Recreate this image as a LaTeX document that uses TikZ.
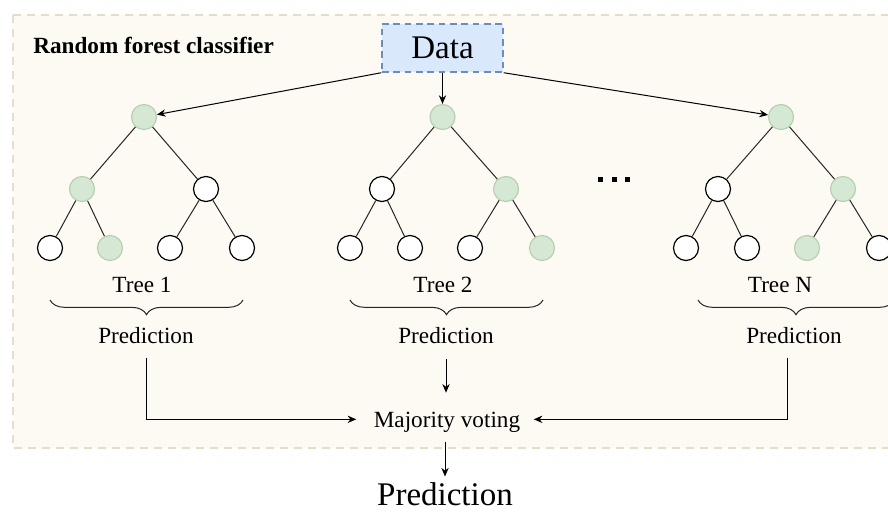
\documentclass[tikz,border=0pt]{standalone}
\usepackage{fontspec}
\setmainfont{Liberation Serif}
\usetikzlibrary{arrows.meta,decorations.pathreplacing}
\definecolor{framefill}{HTML}{FDFAF4}
\definecolor{framedraw}{HTML}{E6DCC8}
\definecolor{datafill}{HTML}{DAE8FC}
\definecolor{datadraw}{HTML}{6C8EBF}
\definecolor{gfill}{HTML}{D5E8D4}
\definecolor{gdraw}{HTML}{B8D0B2}
\begin{document}
\begin{tikzpicture}[x=0.75pt,y=-0.75pt,
 wn/.style={circle,draw=black,line width=0.9pt,fill=white,minimum size=18.75pt,inner sep=0pt},
 gn/.style={circle,draw=gdraw,line width=0.9pt,fill=gfill,minimum size=18.75pt,inner sep=0pt},
 edge/.style={draw=black!85,line width=0.75pt},
 arr/.style={draw=black,line width=0.75pt,-{Stealth[length=6.5pt,width=5.5pt]}},
 txt/.style={font=\fontsize{17.4}{20}\selectfont,inner sep=0pt},
 big/.style={font=\fontsize{24.75}{28}\selectfont,inner sep=0pt},
 brc/.style={decorate,decoration={brace,mirror,amplitude=11pt},line width=0.75pt,draw=black!85}]
\useasboundingbox (0,0) rectangle (888,515);
\fill[white] (0,0) rectangle (888,515);
% frame
\draw[framedraw,fill=framefill,line width=0.9pt,dash pattern=on 6pt off 4.5pt] (13,15) rectangle (900,448);
\node[font={\fontsize{17.4}{20}\selectfont\bfseries},inner sep=0pt,anchor=base west] (title) at (33,53) {Random forest classifier};
% data
\node[draw=datadraw,fill=datafill,line width=1.1pt,dash pattern=on 5pt off 3.5pt,minimum width=90.75pt,minimum height=36pt,big] (data) at (442.5,48) {Data};
% tree 1
\node[gn] (t1r) at (144,117) {};
\node[gn] (t1a) at (82,189) {};
\node[wn] (t1b) at (206,189) {};
\node[wn] (t1aa) at (50,248) {};
\node[gn] (t1ab) at (110,248) {};
\node[wn] (t1ba) at (170,248) {};
\node[wn] (t1bb) at (242,248) {};
% tree 2
\node[gn] (t2r) at (442.5,117) {};
\node[wn] (t2a) at (382,189) {};
\node[gn] (t2b) at (506,189) {};
\node[wn] (t2aa) at (350,248) {};
\node[wn] (t2ab) at (410,248) {};
\node[wn] (t2ba) at (470,248) {};
\node[gn] (t2bb) at (542,248) {};
% tree N
\node[gn] (tnr) at (781,117) {};
\node[wn] (tna) at (718,189) {};
\node[gn] (tnb) at (843,189) {};
\node[wn] (tnaa) at (686,248) {};
\node[wn] (tnab) at (747,248) {};
\node[gn] (tnba) at (807,248) {};
\node[wn] (tnbb) at (879,248) {};
% tree edges
\foreach \t in {t1,t2,tn}{
  \draw[edge] (\t r) -- (\t a);
  \draw[edge] (\t r) -- (\t b);
  \draw[edge] (\t a) -- (\t aa);
  \draw[edge] (\t a) -- (\t ab);
  \draw[edge] (\t b) -- (\t ba);
  \draw[edge] (\t b) -- (\t bb);
}
% data arrows
\draw[arr] (data.south west) -- (t1r);
\draw[arr] (data.south) -- (t2r);
\draw[arr] (data.south east) -- (tnr);
% dots
\fill (598,177) rectangle +(5,5);
\fill (611.5,177) rectangle +(5,5);
\fill (625,177) rectangle +(5,5);
% labels
\node[txt,anchor=base] (lab1) at (142,292) {Tree 1};
\node[txt,anchor=base] (lab2) at (443,292) {Tree 2};
\node[txt,anchor=base] (labn) at (780,292) {Tree N};
% braces
\draw[brc] (50,300) -- (243,300);
\draw[brc] (350,300) -- (543,300);
\draw[brc] (698,300) -- (894,300);
% predictions
\node[txt,anchor=base] (p1) at (146,343) {Prediction};
\node[txt,anchor=base] (p2) at (446,343) {Prediction};
\node[txt,anchor=base] (pn) at (794,343) {Prediction};
\node[txt,anchor=base,text depth=0pt] (mv) at (447,427) {Majority voting};
\node[big,anchor=base] (fin) at (445,505) {Prediction};
% connectors
\draw[arr,shorten <=10.5pt,shorten >=13pt] (p1.south) |- (mv.west);
\draw[arr,shorten <=11.5pt,shorten >=14pt] (p2.south) -- (p2.south |- mv.north);
\draw[arr,shorten <=10.5pt,shorten >=10pt] ([xshift=-5.25pt]pn.south) |- (mv.east);
\draw[arr,shorten <=11pt,shorten >=4pt] (mv.south -| fin.north) -- (fin.north);
\end{tikzpicture}
\end{document}
